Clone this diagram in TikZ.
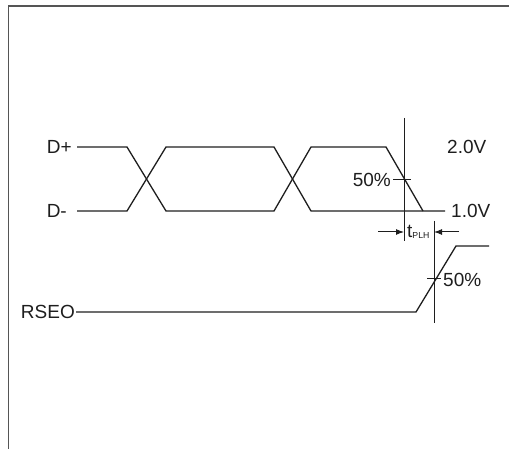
\documentclass[tikz,border=0pt]{standalone}
\usepackage{fontspec}
\setmainfont{Liberation Sans}
\usetikzlibrary{arrows.meta}
\definecolor{ink}{HTML}{1E1E1E}
\definecolor{framecol}{HTML}{555555}
\begin{document}
\begin{tikzpicture}[x=1pt,y=-1pt,
  sig/.style={draw=ink,line width=1.3pt,line join=miter},
  guide/.style={draw=ink,line width=1pt},
  frameline/.style={draw=framecol,line width=1.8pt},
  dimarrow/.style={draw=ink,line width=1pt,-{Latex[length=8pt,width=6pt]}},
  lab/.style={inner sep=0pt,text=ink,font=\fontsize{19}{22}\selectfont,text height=13.6pt,text depth=0pt}]
\useasboundingbox (0,0) rectangle (509,449);
% frame (top and left edges only)
\draw[frameline] (8.5,449) -- (8.5,6) -- (509,6);
% labels
\node[lab,anchor=east] (dp) at (72,147) {D+};
\node[lab,anchor=east] (dm) at (67,211) {D-};
\node[lab,anchor=east] (rs) at (75,312) {RSEO};
\node[lab,anchor=east] (p1) at (391,180) {50\%};
\node[lab,anchor=west] (v2) at (447,147) {2.0V};
\node[lab,anchor=west] (v1) at (451,211) {1.0V};
\node[lab,anchor=west] (p2) at (443,280) {50\%};
\node[inner sep=0pt,anchor=base west,text=ink,font=\fontsize{19}{22}\selectfont] (tp) at (407,237.5) {t\raisebox{-1.5pt}{\fontsize{8.7}{10}\selectfont PLH}};
% waveform coordinates
\coordinate (dpS) at (77,147);
\coordinate (dmS) at (77,211);
\coordinate (rsS) at (76,312);
% D+
\draw[sig] (dpS) -- (127,147) -- (166,211) -- (274,211) -- (311,147) -- (386,147) -- (423,211);
% D-
\draw[sig] (dmS) -- (127,211) -- (166,147) -- (274,147) -- (311,211) -- (445,211);
% RSEO
\draw[sig] (rsS) -- (416,312) -- (456,246) -- (489,246);
% reference verticals and 50% ticks
\coordinate (va) at (404,118); \coordinate (vb) at (404,241);
\coordinate (wa) at (434,221); \coordinate (wb) at (434,323);
\draw[guide] (va) -- (vb);
\draw[guide] (wa) -- (wb);
\draw[guide] (393,180) -- (411,180);
\draw[guide] (427,279) -- (441,279);
% tPLH dimension arrows
\coordinate (la) at (378,232); \coordinate (lb) at (404,232);
\coordinate (ra) at (459,232); \coordinate (rb) at (434,232);
\draw[dimarrow] (la) -- (lb);
\draw[dimarrow] (ra) -- (rb);
\end{tikzpicture}
\end{document}
